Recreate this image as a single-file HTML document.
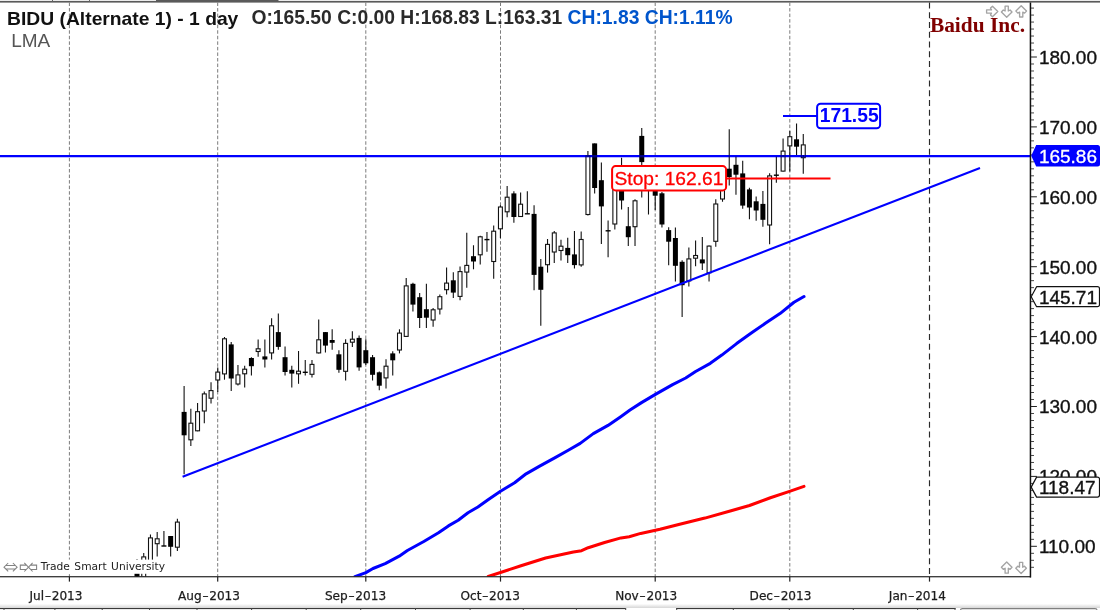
<!DOCTYPE html>
<html lang="en"><head><meta charset="utf-8"><title>BIDU (Alternate 1) - 1 day</title>
<style>
html,body{margin:0;padding:0;background:#fff;}
body{width:1100px;height:610px;overflow:hidden;position:relative;}
svg{position:absolute;left:0;top:0;display:block;}
.sans{font-family:"Liberation Sans",Arial,Helvetica,sans-serif;}
.dv{font-family:"DejaVu Sans",Verdana,sans-serif;}
.serif{font-family:"Liberation Serif","Times New Roman",serif;}
</style></head><body>
<svg width="1100" height="610" viewBox="0 0 1100 610">
<rect x="0" y="0" width="1100" height="610" fill="#fff"/>
<g id="topstrip">
<rect x="0" y="0" width="1100" height="1" fill="#ececec"/>
<rect x="0" y="1" width="1100" height="1.6" fill="#5a5a5a"/>
<rect x="156" y="0" width="122.5" height="2" fill="#5a5a5a"/>
<rect x="52.0" y="0" width="1" height="1.5" fill="#666"/>
<rect x="89.0" y="0" width="1" height="1.5" fill="#666"/>
</g>
<g id="grid" fill="none" stroke-width="1">
<line x1="69.4" y1="2.5" x2="69.4" y2="576.5" stroke="#7c7c7c" stroke-dasharray="3.5 2.05"/>
<line x1="217.7" y1="2.5" x2="217.7" y2="576.5" stroke="#7c7c7c" stroke-dasharray="3.5 2.05"/>
<line x1="365.8" y1="2.5" x2="365.8" y2="576.5" stroke="#7c7c7c" stroke-dasharray="3.5 2.05"/>
<line x1="500.5" y1="2.5" x2="500.5" y2="576.5" stroke="#7c7c7c" stroke-dasharray="3.5 2.05"/>
<line x1="655.2" y1="2.5" x2="655.2" y2="576.5" stroke="#7c7c7c" stroke-dasharray="3.5 2.05"/>
<line x1="789.8" y1="2.5" x2="789.8" y2="576.5" stroke="#7c7c7c" stroke-dasharray="3.5 2.05"/>
<line x1="929.5" y1="2.5" x2="929.5" y2="576.5" stroke="#2a2a2a" stroke-width="1.15" stroke-dasharray="6 3.75"/>
</g>
<defs><clipPath id="plot"><rect x="0" y="2.5" width="1030" height="574"/></clipPath></defs>
<g id="candles" clip-path="url(#plot)">
<line x1="137.00" y1="559.0" x2="137.00" y2="580.0" stroke="#111" stroke-width="1.1"/>
<rect x="134.50" y="566.0" width="5.0" height="14.0" fill="#000"/>
<line x1="143.73" y1="553.0" x2="143.73" y2="580.0" stroke="#111" stroke-width="1.1"/>
<rect x="141.78" y="556.9" width="3.9" height="22.5" fill="#fff" stroke="#111" stroke-width="1.1"/>
<line x1="150.46" y1="534.4" x2="150.46" y2="566.0" stroke="#111" stroke-width="1.1"/>
<rect x="148.51" y="537.9" width="3.9" height="27.5" fill="#fff" stroke="#111" stroke-width="1.1"/>
<line x1="157.19" y1="532.1" x2="157.19" y2="556.6" stroke="#111" stroke-width="1.1"/>
<rect x="155.24" y="538.8" width="3.9" height="4.9" fill="#fff" stroke="#111" stroke-width="1.1"/>
<line x1="163.92" y1="531.0" x2="163.92" y2="546.0" stroke="#111" stroke-width="1.1"/>
<rect x="161.42" y="545.3" width="5.0" height="1.4" fill="#000"/>
<line x1="170.65" y1="536.0" x2="170.65" y2="556.6" stroke="#111" stroke-width="1.1"/>
<rect x="168.15" y="536.0" width="5.0" height="10.8" fill="#000"/>
<line x1="177.38" y1="518.7" x2="177.38" y2="550.9" stroke="#111" stroke-width="1.1"/>
<rect x="175.43" y="522.1" width="3.9" height="25.1" fill="#fff" stroke="#111" stroke-width="1.1"/>
<line x1="184.11" y1="385.9" x2="184.11" y2="474.3" stroke="#111" stroke-width="1.1"/>
<rect x="181.61" y="411.9" width="5.0" height="23.4" fill="#000"/>
<line x1="190.84" y1="408.8" x2="190.84" y2="446.1" stroke="#111" stroke-width="1.1"/>
<rect x="188.89" y="423.2" width="3.9" height="16.6" fill="#fff" stroke="#111" stroke-width="1.1"/>
<line x1="197.57" y1="403.0" x2="197.57" y2="431.3" stroke="#111" stroke-width="1.1"/>
<rect x="195.62" y="411.7" width="3.9" height="19.1" fill="#fff" stroke="#111" stroke-width="1.1"/>
<line x1="204.30" y1="391.6" x2="204.30" y2="423.2" stroke="#111" stroke-width="1.1"/>
<rect x="202.35" y="393.9" width="3.9" height="17.1" fill="#fff" stroke="#111" stroke-width="1.1"/>
<line x1="211.03" y1="382.2" x2="211.03" y2="403.6" stroke="#111" stroke-width="1.1"/>
<rect x="209.08" y="390.6" width="3.9" height="7.6" fill="#fff" stroke="#111" stroke-width="1.1"/>
<line x1="217.76" y1="367.4" x2="217.76" y2="392.0" stroke="#111" stroke-width="1.1"/>
<rect x="215.81" y="372.1" width="3.9" height="7.9" fill="#fff" stroke="#111" stroke-width="1.1"/>
<line x1="224.49" y1="337.0" x2="224.49" y2="379.7" stroke="#111" stroke-width="1.1"/>
<rect x="222.54" y="338.8" width="3.9" height="35.1" fill="#fff" stroke="#111" stroke-width="1.1"/>
<line x1="231.22" y1="342.0" x2="231.22" y2="391.1" stroke="#111" stroke-width="1.1"/>
<rect x="228.72" y="344.4" width="5.0" height="34.1" fill="#000"/>
<line x1="237.95" y1="364.9" x2="237.95" y2="385.4" stroke="#111" stroke-width="1.1"/>
<rect x="236.00" y="374.9" width="3.9" height="9.1" fill="#fff" stroke="#111" stroke-width="1.1"/>
<line x1="244.68" y1="365.7" x2="244.68" y2="387.4" stroke="#111" stroke-width="1.1"/>
<rect x="242.73" y="369.2" width="3.9" height="4.6" fill="#fff" stroke="#111" stroke-width="1.1"/>
<line x1="251.41" y1="357.2" x2="251.41" y2="375.6" stroke="#111" stroke-width="1.1"/>
<rect x="248.91" y="358.0" width="5.0" height="8.2" fill="#000"/>
<line x1="258.14" y1="339.5" x2="258.14" y2="356.7" stroke="#111" stroke-width="1.1"/>
<rect x="256.19" y="348.8" width="3.9" height="2.7" fill="#fff" stroke="#111" stroke-width="1.1"/>
<line x1="264.87" y1="339.5" x2="264.87" y2="367.4" stroke="#111" stroke-width="1.1"/>
<rect x="262.37" y="356.4" width="5.0" height="3.1" fill="#000"/>
<line x1="271.60" y1="318.2" x2="271.60" y2="359.5" stroke="#111" stroke-width="1.1"/>
<rect x="269.65" y="325.8" width="3.9" height="27.1" fill="#fff" stroke="#111" stroke-width="1.1"/>
<line x1="278.33" y1="313.6" x2="278.33" y2="349.8" stroke="#111" stroke-width="1.1"/>
<rect x="275.83" y="332.1" width="5.0" height="14.8" fill="#000"/>
<line x1="285.06" y1="346.4" x2="285.06" y2="375.6" stroke="#111" stroke-width="1.1"/>
<rect x="282.56" y="357.2" width="5.0" height="14.8" fill="#000"/>
<line x1="291.79" y1="365.7" x2="291.79" y2="387.4" stroke="#111" stroke-width="1.1"/>
<rect x="289.29" y="369.8" width="5.0" height="3.8" fill="#000"/>
<line x1="298.52" y1="351.0" x2="298.52" y2="383.8" stroke="#111" stroke-width="1.1"/>
<rect x="296.57" y="371.2" width="3.9" height="2.6" fill="#fff" stroke="#111" stroke-width="1.1"/>
<line x1="305.25" y1="360.0" x2="305.25" y2="375.6" stroke="#111" stroke-width="1.1"/>
<rect x="302.75" y="371.6" width="5.0" height="1.4" fill="#000"/>
<line x1="311.98" y1="360.0" x2="311.98" y2="377.5" stroke="#111" stroke-width="1.1"/>
<rect x="310.03" y="364.4" width="3.9" height="9.9" fill="#fff" stroke="#111" stroke-width="1.1"/>
<line x1="318.71" y1="319.5" x2="318.71" y2="353.4" stroke="#111" stroke-width="1.1"/>
<rect x="316.76" y="339.8" width="3.9" height="13.1" fill="#fff" stroke="#111" stroke-width="1.1"/>
<line x1="325.44" y1="332.1" x2="325.44" y2="352.6" stroke="#111" stroke-width="1.1"/>
<rect x="322.94" y="332.1" width="5.0" height="13.5" fill="#000"/>
<line x1="332.17" y1="329.2" x2="332.17" y2="349.8" stroke="#111" stroke-width="1.1"/>
<rect x="329.67" y="340.0" width="5.0" height="2.8" fill="#000"/>
<line x1="338.90" y1="350.2" x2="338.90" y2="372.8" stroke="#111" stroke-width="1.1"/>
<rect x="336.40" y="354.3" width="5.0" height="15.5" fill="#000"/>
<line x1="345.63" y1="339.2" x2="345.63" y2="380.5" stroke="#111" stroke-width="1.1"/>
<rect x="343.68" y="343.4" width="3.9" height="27.9" fill="#fff" stroke="#111" stroke-width="1.1"/>
<line x1="352.36" y1="331.3" x2="352.36" y2="346.9" stroke="#111" stroke-width="1.1"/>
<rect x="350.41" y="339.2" width="3.9" height="3.0" fill="#fff" stroke="#111" stroke-width="1.1"/>
<line x1="359.09" y1="335.4" x2="359.09" y2="370.7" stroke="#111" stroke-width="1.1"/>
<rect x="356.59" y="337.9" width="5.0" height="29.5" fill="#000"/>
<line x1="365.82" y1="339.2" x2="365.82" y2="364.9" stroke="#111" stroke-width="1.1"/>
<rect x="363.32" y="350.2" width="5.0" height="13.1" fill="#000"/>
<line x1="372.55" y1="355.1" x2="372.55" y2="380.5" stroke="#111" stroke-width="1.1"/>
<rect x="370.05" y="357.2" width="5.0" height="17.6" fill="#000"/>
<line x1="379.28" y1="371.5" x2="379.28" y2="390.3" stroke="#111" stroke-width="1.1"/>
<rect x="376.78" y="372.3" width="5.0" height="13.4" fill="#000"/>
<line x1="386.01" y1="359.2" x2="386.01" y2="388.4" stroke="#111" stroke-width="1.1"/>
<rect x="384.06" y="366.2" width="3.9" height="11.7" fill="#fff" stroke="#111" stroke-width="1.1"/>
<line x1="392.74" y1="351.3" x2="392.74" y2="375.6" stroke="#111" stroke-width="1.1"/>
<rect x="390.24" y="353.4" width="5.0" height="6.9" fill="#000"/>
<line x1="399.47" y1="329.3" x2="399.47" y2="353.4" stroke="#111" stroke-width="1.1"/>
<rect x="397.52" y="333.1" width="3.9" height="16.9" fill="#fff" stroke="#111" stroke-width="1.1"/>
<line x1="406.20" y1="278.0" x2="406.20" y2="337.0" stroke="#111" stroke-width="1.1"/>
<rect x="404.25" y="285.9" width="3.9" height="50.5" fill="#fff" stroke="#111" stroke-width="1.1"/>
<line x1="412.93" y1="282.8" x2="412.93" y2="311.5" stroke="#111" stroke-width="1.1"/>
<rect x="410.43" y="283.8" width="5.0" height="20.8" fill="#000"/>
<line x1="419.66" y1="293.1" x2="419.66" y2="327.9" stroke="#111" stroke-width="1.1"/>
<rect x="417.16" y="297.2" width="5.0" height="20.8" fill="#000"/>
<line x1="426.39" y1="283.8" x2="426.39" y2="327.9" stroke="#111" stroke-width="1.1"/>
<rect x="423.89" y="309.2" width="5.0" height="8.5" fill="#000"/>
<line x1="433.12" y1="307.9" x2="433.12" y2="326.7" stroke="#111" stroke-width="1.1"/>
<rect x="431.17" y="309.8" width="3.9" height="10.2" fill="#fff" stroke="#111" stroke-width="1.1"/>
<line x1="439.85" y1="294.4" x2="439.85" y2="314.4" stroke="#111" stroke-width="1.1"/>
<rect x="437.90" y="296.7" width="3.9" height="12.3" fill="#fff" stroke="#111" stroke-width="1.1"/>
<line x1="446.58" y1="267.4" x2="446.58" y2="294.4" stroke="#111" stroke-width="1.1"/>
<rect x="444.63" y="283.1" width="3.9" height="6.6" fill="#fff" stroke="#111" stroke-width="1.1"/>
<line x1="453.31" y1="272.3" x2="453.31" y2="298.0" stroke="#111" stroke-width="1.1"/>
<rect x="450.81" y="280.3" width="5.0" height="12.3" fill="#000"/>
<line x1="460.04" y1="266.4" x2="460.04" y2="300.2" stroke="#111" stroke-width="1.1"/>
<rect x="458.09" y="271.6" width="3.9" height="24.8" fill="#fff" stroke="#111" stroke-width="1.1"/>
<line x1="466.77" y1="232.8" x2="466.77" y2="287.7" stroke="#111" stroke-width="1.1"/>
<rect x="464.82" y="265.4" width="3.9" height="6.7" fill="#fff" stroke="#111" stroke-width="1.1"/>
<line x1="473.50" y1="245.2" x2="473.50" y2="269.3" stroke="#111" stroke-width="1.1"/>
<rect x="471.00" y="256.2" width="5.0" height="5.3" fill="#000"/>
<line x1="480.23" y1="235.7" x2="480.23" y2="264.5" stroke="#111" stroke-width="1.1"/>
<rect x="478.28" y="236.8" width="3.9" height="18.0" fill="#fff" stroke="#111" stroke-width="1.1"/>
<line x1="486.96" y1="232.0" x2="486.96" y2="251.7" stroke="#111" stroke-width="1.1"/>
<rect x="484.46" y="238.9" width="5.0" height="1.4" fill="#000"/>
<line x1="493.69" y1="225.4" x2="493.69" y2="278.7" stroke="#111" stroke-width="1.1"/>
<rect x="491.74" y="231.2" width="3.9" height="30.3" fill="#fff" stroke="#111" stroke-width="1.1"/>
<line x1="500.42" y1="205.2" x2="500.42" y2="238.0" stroke="#111" stroke-width="1.1"/>
<rect x="498.47" y="207.0" width="3.9" height="21.8" fill="#fff" stroke="#111" stroke-width="1.1"/>
<line x1="507.15" y1="185.9" x2="507.15" y2="217.2" stroke="#111" stroke-width="1.1"/>
<rect x="505.20" y="197.2" width="3.9" height="14.6" fill="#fff" stroke="#111" stroke-width="1.1"/>
<line x1="513.88" y1="191.3" x2="513.88" y2="222.8" stroke="#111" stroke-width="1.1"/>
<rect x="511.38" y="193.4" width="5.0" height="23.6" fill="#000"/>
<line x1="520.61" y1="192.5" x2="520.61" y2="217.0" stroke="#111" stroke-width="1.1"/>
<rect x="518.66" y="204.2" width="3.9" height="12.3" fill="#fff" stroke="#111" stroke-width="1.1"/>
<line x1="527.34" y1="191.3" x2="527.34" y2="213.8" stroke="#111" stroke-width="1.1"/>
<rect x="524.84" y="213.1" width="5.0" height="1.4" fill="#000"/>
<line x1="534.07" y1="205.2" x2="534.07" y2="290.2" stroke="#111" stroke-width="1.1"/>
<rect x="531.57" y="213.9" width="5.0" height="61.0" fill="#000"/>
<line x1="540.80" y1="259.0" x2="540.80" y2="325.7" stroke="#111" stroke-width="1.1"/>
<rect x="538.30" y="266.7" width="5.0" height="23.1" fill="#000"/>
<line x1="547.53" y1="238.9" x2="547.53" y2="272.6" stroke="#111" stroke-width="1.1"/>
<rect x="545.58" y="244.4" width="3.9" height="20.3" fill="#fff" stroke="#111" stroke-width="1.1"/>
<line x1="554.26" y1="231.0" x2="554.26" y2="263.1" stroke="#111" stroke-width="1.1"/>
<rect x="552.31" y="232.9" width="3.9" height="19.1" fill="#fff" stroke="#111" stroke-width="1.1"/>
<line x1="560.99" y1="239.7" x2="560.99" y2="260.5" stroke="#111" stroke-width="1.1"/>
<rect x="559.04" y="246.2" width="3.9" height="4.3" fill="#fff" stroke="#111" stroke-width="1.1"/>
<line x1="567.72" y1="237.7" x2="567.72" y2="263.1" stroke="#111" stroke-width="1.1"/>
<rect x="565.22" y="247.9" width="5.0" height="7.3" fill="#000"/>
<line x1="574.45" y1="231.1" x2="574.45" y2="268.4" stroke="#111" stroke-width="1.1"/>
<rect x="571.95" y="254.4" width="5.0" height="10.7" fill="#000"/>
<line x1="581.18" y1="231.5" x2="581.18" y2="266.7" stroke="#111" stroke-width="1.1"/>
<rect x="579.23" y="239.5" width="3.9" height="25.4" fill="#fff" stroke="#111" stroke-width="1.1"/>
<line x1="587.91" y1="151.1" x2="587.91" y2="215.5" stroke="#111" stroke-width="1.1"/>
<rect x="585.96" y="155.8" width="3.9" height="58.7" fill="#fff" stroke="#111" stroke-width="1.1"/>
<line x1="594.64" y1="143.4" x2="594.64" y2="193.5" stroke="#111" stroke-width="1.1"/>
<rect x="592.14" y="143.4" width="5.0" height="44.6" fill="#000"/>
<line x1="601.37" y1="162.6" x2="601.37" y2="244.1" stroke="#111" stroke-width="1.1"/>
<rect x="598.87" y="180.2" width="5.0" height="26.2" fill="#000"/>
<line x1="608.10" y1="220.4" x2="608.10" y2="257.3" stroke="#111" stroke-width="1.1"/>
<rect x="605.60" y="230.1" width="5.0" height="1.4" fill="#000"/>
<line x1="614.83" y1="180.0" x2="614.83" y2="229.4" stroke="#111" stroke-width="1.1"/>
<rect x="612.88" y="180.6" width="3.9" height="43.4" fill="#fff" stroke="#111" stroke-width="1.1"/>
<line x1="621.56" y1="157.7" x2="621.56" y2="209.6" stroke="#111" stroke-width="1.1"/>
<rect x="619.06" y="185.0" width="5.0" height="15.5" fill="#000"/>
<line x1="628.29" y1="207.0" x2="628.29" y2="246.0" stroke="#111" stroke-width="1.1"/>
<rect x="625.79" y="226.2" width="5.0" height="11.0" fill="#000"/>
<line x1="635.02" y1="199.2" x2="635.02" y2="246.0" stroke="#111" stroke-width="1.1"/>
<rect x="633.07" y="200.8" width="3.9" height="25.9" fill="#fff" stroke="#111" stroke-width="1.1"/>
<line x1="641.75" y1="127.9" x2="641.75" y2="197.6" stroke="#111" stroke-width="1.1"/>
<rect x="639.25" y="135.9" width="5.0" height="26.2" fill="#000"/>
<line x1="648.48" y1="175.0" x2="648.48" y2="214.4" stroke="#111" stroke-width="1.1"/>
<rect x="645.98" y="179.3" width="5.0" height="1.4" fill="#000"/>
<line x1="655.21" y1="175.0" x2="655.21" y2="210.0" stroke="#111" stroke-width="1.1"/>
<rect x="652.71" y="175.0" width="5.0" height="20.7" fill="#000"/>
<line x1="661.94" y1="192.0" x2="661.94" y2="227.6" stroke="#111" stroke-width="1.1"/>
<rect x="659.44" y="193.3" width="5.0" height="31.2" fill="#000"/>
<line x1="668.67" y1="227.3" x2="668.67" y2="265.2" stroke="#111" stroke-width="1.1"/>
<rect x="666.17" y="230.1" width="5.0" height="11.6" fill="#000"/>
<line x1="675.40" y1="227.4" x2="675.40" y2="281.6" stroke="#111" stroke-width="1.1"/>
<rect x="672.90" y="238.0" width="5.0" height="27.8" fill="#000"/>
<line x1="682.13" y1="260.2" x2="682.13" y2="317.0" stroke="#111" stroke-width="1.1"/>
<rect x="679.63" y="261.8" width="5.0" height="23.4" fill="#000"/>
<line x1="688.86" y1="247.4" x2="688.86" y2="286.4" stroke="#111" stroke-width="1.1"/>
<rect x="686.91" y="258.9" width="3.9" height="22.0" fill="#fff" stroke="#111" stroke-width="1.1"/>
<line x1="695.59" y1="240.6" x2="695.59" y2="266.2" stroke="#111" stroke-width="1.1"/>
<rect x="693.64" y="255.5" width="3.9" height="2.7" fill="#fff" stroke="#111" stroke-width="1.1"/>
<line x1="702.32" y1="237.0" x2="702.32" y2="270.0" stroke="#111" stroke-width="1.1"/>
<rect x="699.82" y="259.4" width="5.0" height="4.0" fill="#000"/>
<line x1="709.05" y1="245.5" x2="709.05" y2="281.5" stroke="#111" stroke-width="1.1"/>
<rect x="707.10" y="246.1" width="3.9" height="26.7" fill="#fff" stroke="#111" stroke-width="1.1"/>
<line x1="715.78" y1="199.3" x2="715.78" y2="246.7" stroke="#111" stroke-width="1.1"/>
<rect x="713.83" y="204.0" width="3.9" height="37.3" fill="#fff" stroke="#111" stroke-width="1.1"/>
<line x1="722.51" y1="178.0" x2="722.51" y2="201.7" stroke="#111" stroke-width="1.1"/>
<rect x="720.56" y="178.6" width="3.9" height="20.4" fill="#fff" stroke="#111" stroke-width="1.1"/>
<line x1="729.24" y1="129.2" x2="729.24" y2="185.4" stroke="#111" stroke-width="1.1"/>
<rect x="726.74" y="168.7" width="5.0" height="8.3" fill="#000"/>
<line x1="735.97" y1="156.6" x2="735.97" y2="194.8" stroke="#111" stroke-width="1.1"/>
<rect x="733.47" y="164.8" width="5.0" height="9.9" fill="#000"/>
<line x1="742.70" y1="160.7" x2="742.70" y2="208.7" stroke="#111" stroke-width="1.1"/>
<rect x="740.20" y="173.4" width="5.0" height="32.2" fill="#000"/>
<line x1="749.43" y1="187.8" x2="749.43" y2="219.3" stroke="#111" stroke-width="1.1"/>
<rect x="746.93" y="189.4" width="5.0" height="18.1" fill="#000"/>
<line x1="756.16" y1="196.5" x2="756.16" y2="220.7" stroke="#111" stroke-width="1.1"/>
<rect x="753.66" y="201.3" width="5.0" height="9.2" fill="#000"/>
<line x1="762.89" y1="191.0" x2="762.89" y2="226.7" stroke="#111" stroke-width="1.1"/>
<rect x="760.39" y="203.9" width="5.0" height="15.9" fill="#000"/>
<line x1="769.62" y1="173.2" x2="769.62" y2="244.3" stroke="#111" stroke-width="1.1"/>
<rect x="767.67" y="175.9" width="3.9" height="49.1" fill="#fff" stroke="#111" stroke-width="1.1"/>
<line x1="776.35" y1="156.6" x2="776.35" y2="182.7" stroke="#111" stroke-width="1.1"/>
<rect x="773.85" y="174.5" width="5.0" height="1.4" fill="#000"/>
<line x1="783.08" y1="138.5" x2="783.08" y2="171.6" stroke="#111" stroke-width="1.1"/>
<rect x="781.13" y="151.1" width="3.9" height="20.0" fill="#fff" stroke="#111" stroke-width="1.1"/>
<line x1="789.81" y1="131.1" x2="789.81" y2="171.6" stroke="#111" stroke-width="1.1"/>
<rect x="787.86" y="136.7" width="3.9" height="9.2" fill="#fff" stroke="#111" stroke-width="1.1"/>
<line x1="796.54" y1="123.4" x2="796.54" y2="154.9" stroke="#111" stroke-width="1.1"/>
<rect x="794.04" y="139.3" width="5.0" height="7.4" fill="#000"/>
<line x1="803.27" y1="133.9" x2="803.27" y2="173.8" stroke="#111" stroke-width="1.1"/>
<rect x="801.32" y="144.9" width="3.9" height="12.8" fill="#fff" stroke="#111" stroke-width="1.1"/>
</g>
<rect x="3" y="559.6" width="165" height="14.2" fill="#fff"/>
<polyline clip-path="url(#plot)" points="354.9,576.7 365.9,572.6 373.0,568.5 385.2,563.6 399.2,556.2 407.4,550.5 423.8,541.5 438.5,532.8 448.4,525.9 458.2,520.2 468.0,512.8 477.9,507.0 487.7,500.0 500.5,491.2 514.6,482.8 526.1,473.8 539.2,466.4 555.6,457.4 568.7,450.0 580.2,443.4 593.3,433.6 608.0,425.4 621.1,416.4 630.0,410.0 641.5,402.6 655.4,394.4 672.6,384.6 685.7,378.0 695.6,371.5 710.3,363.3 721.8,355.1 736.6,343.6 751.3,333.0 766.1,322.8 780.0,313.6 794.0,302.3 804.0,296.5" fill="none" stroke="#0000ff" stroke-width="3.05" stroke-linejoin="round" stroke-linecap="round"/>
<polyline clip-path="url(#plot)" points="488.2,576.4 500.5,572.5 521.0,565.7 545.6,558.0 573.4,552.0 581.6,550.7 588.2,547.7 604.6,542.5 621.0,537.9 629.2,536.7 640.7,533.4 660.0,529.3 678.7,524.4 704.9,518.1 731.1,510.8 749.5,505.5 770.4,497.7 788.8,491.6 804.0,486.4" fill="none" stroke="#ff0000" stroke-width="3.05" stroke-linejoin="round" stroke-linecap="round"/>
<line x1="182.6" y1="476.8" x2="980" y2="168.0" stroke="#0000ff" stroke-width="2.1"/>
<line x1="0" y1="156.1" x2="1031" y2="156.1" stroke="#0000ff" stroke-width="2.1"/>
<defs><clipPath id="hl"><rect x="0" y="155.05" width="1031" height="2.1"/></clipPath></defs>
<g clip-path="url(#hl)" opacity="0.5">
<line x1="587.91" y1="151.1" x2="587.91" y2="215.5" stroke="#000" stroke-width="1.1"/>
<rect x="585.96" y="155.8" width="3.9" height="58.7" fill="none" stroke="#000" stroke-width="1.1"/>
<line x1="594.64" y1="143.4" x2="594.64" y2="193.5" stroke="#000" stroke-width="1.1"/>
<rect x="592.14" y="143.4" width="5.0" height="44.6" fill="#000"/>
<line x1="621.56" y1="157.7" x2="621.56" y2="209.6" stroke="#000" stroke-width="1.1"/>
<rect x="619.06" y="185.0" width="5.0" height="15.5" fill="#000"/>
<line x1="641.75" y1="127.9" x2="641.75" y2="197.6" stroke="#000" stroke-width="1.1"/>
<rect x="639.25" y="135.9" width="5.0" height="26.2" fill="#000"/>
<line x1="729.24" y1="129.2" x2="729.24" y2="185.4" stroke="#000" stroke-width="1.1"/>
<rect x="726.74" y="168.7" width="5.0" height="8.3" fill="#000"/>
<line x1="735.97" y1="156.6" x2="735.97" y2="194.8" stroke="#000" stroke-width="1.1"/>
<rect x="733.47" y="164.8" width="5.0" height="9.9" fill="#000"/>
<line x1="776.35" y1="156.6" x2="776.35" y2="182.7" stroke="#000" stroke-width="1.1"/>
<line x1="783.08" y1="138.5" x2="783.08" y2="171.6" stroke="#000" stroke-width="1.1"/>
<rect x="781.13" y="151.1" width="3.9" height="20.0" fill="none" stroke="#000" stroke-width="1.1"/>
<line x1="789.81" y1="131.1" x2="789.81" y2="171.6" stroke="#000" stroke-width="1.1"/>
<rect x="787.86" y="136.7" width="3.9" height="9.2" fill="none" stroke="#000" stroke-width="1.1"/>
<line x1="796.54" y1="123.4" x2="796.54" y2="154.9" stroke="#000" stroke-width="1.1"/>
<rect x="794.04" y="139.3" width="5.0" height="7.4" fill="#000"/>
<line x1="803.27" y1="133.9" x2="803.27" y2="173.8" stroke="#000" stroke-width="1.1"/>
<rect x="801.32" y="144.9" width="3.9" height="12.8" fill="none" stroke="#000" stroke-width="1.1"/>
</g>
<line x1="783" y1="116" x2="817" y2="116" stroke="#0000ff" stroke-width="2.05"/>
<rect x="817.1" y="103.7" width="63" height="24.6" rx="3.5" ry="3.5" fill="#fff" stroke="#0000ff" stroke-width="2"/>
<text class="sans" x="849.2" y="121.7" font-size="19.3" font-weight="bold" fill="#0000ff" text-anchor="middle">171.55</text>
<line x1="727" y1="178.4" x2="830.5" y2="178.4" stroke="#ff0000" stroke-width="2.05"/>
<rect x="612.1" y="166.1" width="114" height="24.3" rx="3.5" ry="3.5" fill="#fff" stroke="#ff0000" stroke-width="2"/>
<text class="sans" x="614.5" y="184.8" font-size="19.2" fill="#ff0000" stroke="#ff0000" stroke-width="0.3">Stop: 162.61</text>
<g id="axes">
<rect x="0" y="576.2" width="1031" height="1.1" fill="#111"/>
<rect x="1029.7" y="2.5" width="1.5" height="575" fill="#111"/>
<rect x="1031" y="566.82" width="3" height="0.9" fill="#333"/>
<rect x="1031" y="559.83" width="3" height="0.9" fill="#333"/>
<rect x="1031" y="552.84" width="3" height="0.9" fill="#333"/>
<rect x="1031" y="545.80" width="5.9" height="1" fill="#222"/>
<rect x="1031" y="538.86" width="3" height="0.9" fill="#333"/>
<rect x="1031" y="531.87" width="3" height="0.9" fill="#333"/>
<rect x="1031" y="524.88" width="3" height="0.9" fill="#333"/>
<rect x="1031" y="517.89" width="3" height="0.9" fill="#333"/>
<rect x="1031" y="510.90" width="3" height="0.9" fill="#333"/>
<rect x="1031" y="503.91" width="3" height="0.9" fill="#333"/>
<rect x="1031" y="496.92" width="3" height="0.9" fill="#333"/>
<rect x="1031" y="489.93" width="3" height="0.9" fill="#333"/>
<rect x="1031" y="482.94" width="3" height="0.9" fill="#333"/>
<rect x="1031" y="475.90" width="5.9" height="1" fill="#222"/>
<rect x="1031" y="468.96" width="3" height="0.9" fill="#333"/>
<rect x="1031" y="461.97" width="3" height="0.9" fill="#333"/>
<rect x="1031" y="454.98" width="3" height="0.9" fill="#333"/>
<rect x="1031" y="447.99" width="3" height="0.9" fill="#333"/>
<rect x="1031" y="441.00" width="3" height="0.9" fill="#333"/>
<rect x="1031" y="434.01" width="3" height="0.9" fill="#333"/>
<rect x="1031" y="427.02" width="3" height="0.9" fill="#333"/>
<rect x="1031" y="420.03" width="3" height="0.9" fill="#333"/>
<rect x="1031" y="413.04" width="3" height="0.9" fill="#333"/>
<rect x="1031" y="406.00" width="5.9" height="1" fill="#222"/>
<rect x="1031" y="399.06" width="3" height="0.9" fill="#333"/>
<rect x="1031" y="392.07" width="3" height="0.9" fill="#333"/>
<rect x="1031" y="385.08" width="3" height="0.9" fill="#333"/>
<rect x="1031" y="378.09" width="3" height="0.9" fill="#333"/>
<rect x="1031" y="371.10" width="3" height="0.9" fill="#333"/>
<rect x="1031" y="364.11" width="3" height="0.9" fill="#333"/>
<rect x="1031" y="357.12" width="3" height="0.9" fill="#333"/>
<rect x="1031" y="350.13" width="3" height="0.9" fill="#333"/>
<rect x="1031" y="343.14" width="3" height="0.9" fill="#333"/>
<rect x="1031" y="336.10" width="5.9" height="1" fill="#222"/>
<rect x="1031" y="329.16" width="3" height="0.9" fill="#333"/>
<rect x="1031" y="322.17" width="3" height="0.9" fill="#333"/>
<rect x="1031" y="315.18" width="3" height="0.9" fill="#333"/>
<rect x="1031" y="308.19" width="3" height="0.9" fill="#333"/>
<rect x="1031" y="301.20" width="3" height="0.9" fill="#333"/>
<rect x="1031" y="294.21" width="3" height="0.9" fill="#333"/>
<rect x="1031" y="287.22" width="3" height="0.9" fill="#333"/>
<rect x="1031" y="280.23" width="3" height="0.9" fill="#333"/>
<rect x="1031" y="273.24" width="3" height="0.9" fill="#333"/>
<rect x="1031" y="266.20" width="5.9" height="1" fill="#222"/>
<rect x="1031" y="259.26" width="3" height="0.9" fill="#333"/>
<rect x="1031" y="252.27" width="3" height="0.9" fill="#333"/>
<rect x="1031" y="245.28" width="3" height="0.9" fill="#333"/>
<rect x="1031" y="238.29" width="3" height="0.9" fill="#333"/>
<rect x="1031" y="231.30" width="3" height="0.9" fill="#333"/>
<rect x="1031" y="224.31" width="3" height="0.9" fill="#333"/>
<rect x="1031" y="217.32" width="3" height="0.9" fill="#333"/>
<rect x="1031" y="210.33" width="3" height="0.9" fill="#333"/>
<rect x="1031" y="203.34" width="3" height="0.9" fill="#333"/>
<rect x="1031" y="196.30" width="5.9" height="1" fill="#222"/>
<rect x="1031" y="189.36" width="3" height="0.9" fill="#333"/>
<rect x="1031" y="182.37" width="3" height="0.9" fill="#333"/>
<rect x="1031" y="175.38" width="3" height="0.9" fill="#333"/>
<rect x="1031" y="168.39" width="3" height="0.9" fill="#333"/>
<rect x="1031" y="161.40" width="3" height="0.9" fill="#333"/>
<rect x="1031" y="154.41" width="3" height="0.9" fill="#333"/>
<rect x="1031" y="147.42" width="3" height="0.9" fill="#333"/>
<rect x="1031" y="140.43" width="3" height="0.9" fill="#333"/>
<rect x="1031" y="133.44" width="3" height="0.9" fill="#333"/>
<rect x="1031" y="126.40" width="5.9" height="1" fill="#222"/>
<rect x="1031" y="119.46" width="3" height="0.9" fill="#333"/>
<rect x="1031" y="112.47" width="3" height="0.9" fill="#333"/>
<rect x="1031" y="105.48" width="3" height="0.9" fill="#333"/>
<rect x="1031" y="98.49" width="3" height="0.9" fill="#333"/>
<rect x="1031" y="91.50" width="3" height="0.9" fill="#333"/>
<rect x="1031" y="84.51" width="3" height="0.9" fill="#333"/>
<rect x="1031" y="77.52" width="3" height="0.9" fill="#333"/>
<rect x="1031" y="70.53" width="3" height="0.9" fill="#333"/>
<rect x="1031" y="63.54" width="3" height="0.9" fill="#333"/>
<rect x="1031" y="56.50" width="5.9" height="1" fill="#222"/>
<rect x="1031" y="49.56" width="3" height="0.9" fill="#333"/>
<rect x="1031" y="42.57" width="3" height="0.9" fill="#333"/>
<rect x="1031" y="35.58" width="3" height="0.9" fill="#333"/>
<rect x="1031" y="28.59" width="3" height="0.9" fill="#333"/>
<rect x="1031" y="21.60" width="3" height="0.9" fill="#333"/>
<rect x="1031" y="14.61" width="3" height="0.9" fill="#333"/>
<rect x="1031" y="7.62" width="3" height="0.9" fill="#333"/>
<text class="sans" x="1038.9" y="63.9" font-size="19" fill="#111" stroke="#111" stroke-width="0.35">180.00</text>
<text class="sans" x="1038.9" y="133.8" font-size="19" fill="#111" stroke="#111" stroke-width="0.35">170.00</text>
<text class="sans" x="1038.9" y="203.7" font-size="19" fill="#111" stroke="#111" stroke-width="0.35">160.00</text>
<text class="sans" x="1038.9" y="273.6" font-size="19" fill="#111" stroke="#111" stroke-width="0.35">150.00</text>
<text class="sans" x="1038.9" y="343.5" font-size="19" fill="#111" stroke="#111" stroke-width="0.35">140.00</text>
<text class="sans" x="1038.9" y="413.4" font-size="19" fill="#111" stroke="#111" stroke-width="0.35">130.00</text>
<text class="sans" x="1038.9" y="483.3" font-size="19" fill="#111" stroke="#111" stroke-width="0.35">120.00</text>
<text class="sans" x="1038.9" y="553.2" font-size="19" fill="#111" stroke="#111" stroke-width="0.35">110.00</text>
<rect x="68.8" y="577" width="1.2" height="4.6" fill="#222"/>
<rect x="217.1" y="577" width="1.2" height="4.6" fill="#222"/>
<rect x="365.2" y="577" width="1.2" height="4.6" fill="#222"/>
<rect x="499.9" y="577" width="1.2" height="4.6" fill="#222"/>
<rect x="654.6" y="577" width="1.2" height="4.6" fill="#222"/>
<rect x="789.2" y="577" width="1.2" height="4.6" fill="#222"/>
<rect x="928.9" y="577" width="1.2" height="4.6" fill="#222"/>
</g>
<text class="dv" x="56.0" y="600.3" font-size="12.1" fill="#1c1c1c" stroke="#1c1c1c" stroke-width="0.25" text-anchor="middle">Jul<tspan dx="0.8">–</tspan><tspan dx="0.8">2013</tspan></text>
<text class="dv" x="209.0" y="600.3" font-size="12.1" fill="#1c1c1c" stroke="#1c1c1c" stroke-width="0.25" text-anchor="middle">Aug<tspan dx="0.8">–</tspan><tspan dx="0.8">2013</tspan></text>
<text class="dv" x="355.5" y="600.3" font-size="12.1" fill="#1c1c1c" stroke="#1c1c1c" stroke-width="0.25" text-anchor="middle">Sep<tspan dx="0.8">–</tspan><tspan dx="0.8">2013</tspan></text>
<text class="dv" x="490.2" y="600.3" font-size="12.1" fill="#1c1c1c" stroke="#1c1c1c" stroke-width="0.25" text-anchor="middle">Oct<tspan dx="0.8">–</tspan><tspan dx="0.8">2013</tspan></text>
<text class="dv" x="646.2" y="600.3" font-size="12.1" fill="#1c1c1c" stroke="#1c1c1c" stroke-width="0.25" text-anchor="middle">Nov<tspan dx="0.8">–</tspan><tspan dx="0.8">2013</tspan></text>
<text class="dv" x="780.5" y="600.3" font-size="12.1" fill="#1c1c1c" stroke="#1c1c1c" stroke-width="0.25" text-anchor="middle">Dec<tspan dx="0.8">–</tspan><tspan dx="0.8">2013</tspan></text>
<text class="dv" x="917.4" y="600.3" font-size="12.1" fill="#1c1c1c" stroke="#1c1c1c" stroke-width="0.25" text-anchor="middle">Jan<tspan dx="0.8">–</tspan><tspan dx="0.8">2014</tspan></text>
<path d="M1031.2,487.1 L1036.6,477.1 L1097.5,477.1 Q1099.5,477.1 1099.5,479.1 L1099.5,495.1 Q1099.5,497.1 1097.5,497.1 L1036.6,497.1 Z" fill="#fff" stroke="#111" stroke-width="1.2" stroke-linejoin="round"/>
<text class="sans" x="1038.9" y="494.0" font-size="19" fill="#111" stroke="#111" stroke-width="0.35">118.47</text>
<path d="M1031.2,296.7 L1036.6,286.7 L1097.5,286.7 Q1099.5,286.7 1099.5,288.7 L1099.5,304.7 Q1099.5,306.7 1097.5,306.7 L1036.6,306.7 Z" fill="#fff" stroke="#111" stroke-width="1.2" stroke-linejoin="round"/>
<text class="sans" x="1038.9" y="303.6" font-size="19" fill="#111" stroke="#111" stroke-width="0.35">145.71</text>
<path d="M1031.2,155.8 L1036.2,145.0 L1097.5,145.0 Q1100,145.0 1100,147.5 L1100,164.1 Q1100,166.6 1097.5,166.6 L1036.2,166.6 Z" fill="#0000ff"/>
<text class="sans" x="1038.9" y="162.7" font-size="19" fill="#fff" stroke="#fff" stroke-width="0.3">165.86</text>
<text class="sans" x="7.1" y="25.3" font-size="19.27" font-weight="bold" fill="#111">BIDU (Alternate 1) - 1 day</text>
<text class="sans" x="251.4" y="23.9" font-size="19.3" font-weight="bold" fill="#2a2a2a">O:165.50 C:0.00 H:168.83 L:163.31 <tspan fill="#0055cc">CH:1.83 CH:1.11%</tspan></text>
<text class="sans" x="11.2" y="46.7" font-size="19" fill="#555">LMA</text>
<text class="serif" x="929.9" y="32.3" font-size="21.4" font-weight="bold" fill="#800000">Baidu Inc.</text>
<text class="dv" x="40.7" y="569.6" font-size="10.7" word-spacing="1" fill="#222">Trade Smart University</text>
<path d="M-5.6,-1.6 L-0.7,-1.6 L-1.7,-3.4 L0.3,-5.3 L5.6,0 L0.3,5.3 L-1.7,3.4 L-0.7,1.6 L-5.6,1.6 Z" transform="translate(992.2,11.5) rotate(0)" fill="#fff" stroke="#a4a4a4" stroke-width="1.35" stroke-linejoin="round"/>
<path d="M-5.6,-1.6 L-0.7,-1.6 L-1.7,-3.4 L0.3,-5.3 L5.6,0 L0.3,5.3 L-1.7,3.4 L-0.7,1.6 L-5.6,1.6 Z" transform="translate(1006.7,11.7) rotate(90)" fill="#fff" stroke="#a4a4a4" stroke-width="1.35" stroke-linejoin="round"/>
<path d="M-5.6,-1.6 L-0.7,-1.6 L-1.7,-3.4 L0.3,-5.3 L5.6,0 L0.3,5.3 L-1.7,3.4 L-0.7,1.6 L-5.6,1.6 Z" transform="translate(1021.2,11.4) rotate(-90)" fill="#fff" stroke="#a4a4a4" stroke-width="1.35" stroke-linejoin="round"/>
<path d="M-5.6,-1.6 L-0.7,-1.6 L-1.7,-3.4 L0.3,-5.3 L5.6,0 L0.3,5.3 L-1.7,3.4 L-0.7,1.6 L-5.6,1.6 Z" transform="translate(1006.7,567.6) rotate(-90)" fill="#fff" stroke="#a4a4a4" stroke-width="1.35" stroke-linejoin="round"/>
<path d="M-5.6,-1.6 L-0.7,-1.6 L-1.7,-3.4 L0.3,-5.3 L5.6,0 L0.3,5.3 L-1.7,3.4 L-0.7,1.6 L-5.6,1.6 Z" transform="translate(1021.1,567.9) rotate(90)" fill="#fff" stroke="#a4a4a4" stroke-width="1.35" stroke-linejoin="round"/>
<g fill="none" stroke="#828282" stroke-width="1.05">
<path d="M8.2,563 L4,567.2 L8.2,571.4 M12.9,563 L17.1,567.2 L12.9,571.4 M5.9,565.5 L15.2,565.5 M5.9,568.9 L15.2,568.9"/>
<path d="M24.3,562.9 L28.5,567.2 L24.3,571.5 M26.4,565.1 L20.3,565.1 L20.3,569.4 L26.4,569.4"/>
<path d="M32.6,562.9 L28.5,567.2 L32.6,571.5 M30.6,565.1 L36.6,565.1 L36.6,569.4 L30.6,569.4"/>
</g>
<defs><linearGradient id="bs" x1="0" y1="0" x2="0" y2="1"><stop offset="0" stop-color="#ffffff"/><stop offset="1" stop-color="#d6d6d6"/></linearGradient></defs>
<rect x="0" y="603.8" width="1100" height="4.2" fill="url(#bs)"/>
<rect x="0" y="608" width="625.7" height="1.1" fill="#3a3a3a"/>
<rect x="676.2" y="608" width="279.3" height="1.1" fill="#3a3a3a"/>
<rect x="3.5" y="608" width="1" height="2" fill="#444"/>
<rect x="54.4" y="608" width="1" height="2" fill="#444"/>
<rect x="101.7" y="608" width="1" height="2" fill="#444"/>
<rect x="149" y="608" width="1" height="2" fill="#444"/>
<rect x="196.5" y="608" width="1" height="2" fill="#444"/>
<rect x="251.1" y="608" width="1" height="2" fill="#444"/>
<rect x="305.7" y="608" width="1" height="2" fill="#444"/>
<rect x="360.2" y="608" width="1" height="2" fill="#444"/>
<rect x="415" y="608" width="1" height="2" fill="#444"/>
<rect x="469.6" y="608" width="1" height="2" fill="#444"/>
<rect x="522.8" y="608" width="1" height="2" fill="#444"/>
<rect x="575.9" y="608" width="1" height="2" fill="#444"/>
<rect x="625.2" y="608" width="1" height="2" fill="#444"/>
<rect x="676.2" y="608" width="1" height="2" fill="#444"/>
<rect x="732.8" y="608" width="1" height="2" fill="#444"/>
<rect x="788.8" y="608" width="1" height="2" fill="#444"/>
<rect x="852.8" y="608" width="1" height="2" fill="#444"/>
<rect x="917.1" y="608" width="1" height="2" fill="#444"/>
<rect x="954.5" y="608" width="1" height="2" fill="#444"/>
<path d="M960.5,610 Q960.5,608.6 962.5,608.6 L1095,608.6 Q1097,608.6 1097,610" fill="none" stroke="#808080" stroke-width="1.1"/>
</svg>
</body></html>
